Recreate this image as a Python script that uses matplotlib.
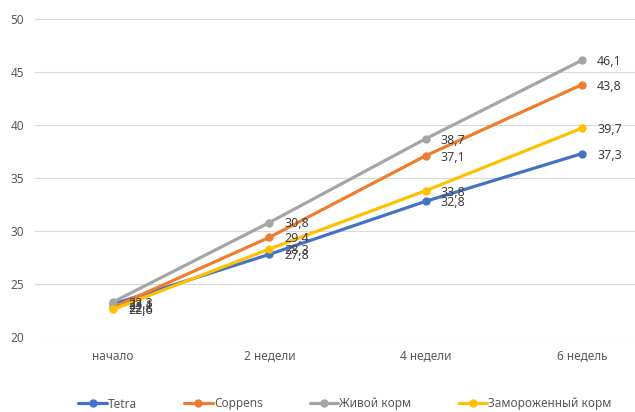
import matplotlib.pyplot as plt

plt.rcParams['font.family'] = ['Noto Sans', 'DejaVu Sans']

# weeks of feeding and fish size per diet
weeks = ['начало', '2 недели', '4 недели', '6 недель']
tetra = [23.1, 27.8, 32.8, 37.3]
coppens = [22.8, 29.4, 37.1, 43.8]
live_food = [23.3, 30.8, 38.7, 46.1]
frozen_food = [22.6, 28.3, 33.8, 39.7]

series = [
    ('Tetra', tetra, '#4472C4'),
    ('Coppens', coppens, '#ED7D31'),
    ('Живой корм', live_food, '#A5A5A5'),
    ('Замороженный корм', frozen_food, '#FFC000'),
]

fig = plt.figure(figsize=(6.35, 4.12), dpi=100)
ax = fig.add_axes([35 / 635, 1 - 337 / 412, 625 / 635, 318 / 412])

x = range(len(weeks))
for name, vals, color in series:
    ax.plot(x, vals, color=color, linewidth=2.3, marker='o', markersize=5,
            label=name, solid_capstyle='round')
    for xi, v in zip(x, vals):
        ax.annotate(f'{v:.1f}'.replace('.', ','), (xi, v), xytext=(11, -1),
                    textcoords='offset points', va='center', ha='left',
                    fontsize=9, color='#404040')

ax.set_xlim(-0.5, 3.5)
ax.set_ylim(20, 50)
ax.set_yticks(range(20, 51, 5))
ax.set_xticks(list(x))
ax.set_xticklabels(weeks)
ax.tick_params(length=0, labelsize=8.5, labelcolor='#595959')
ax.tick_params(axis='x', pad=9)
ax.tick_params(axis='y', pad=8)
ax.grid(axis='y', color='#D9D9D9', linewidth=0.8)
ax.set_axisbelow(True)
for s in ax.spines.values():
    s.set_visible(False)

fig.legend(loc='center', bbox_to_anchor=(345 / 635, 1 - 404 / 412), ncol=4,
           frameon=False, fontsize=8.5, handlelength=2.4, columnspacing=4.0,
           handletextpad=0.1, labelcolor='#595959')

fig.savefig('out.png', dpi=100)
